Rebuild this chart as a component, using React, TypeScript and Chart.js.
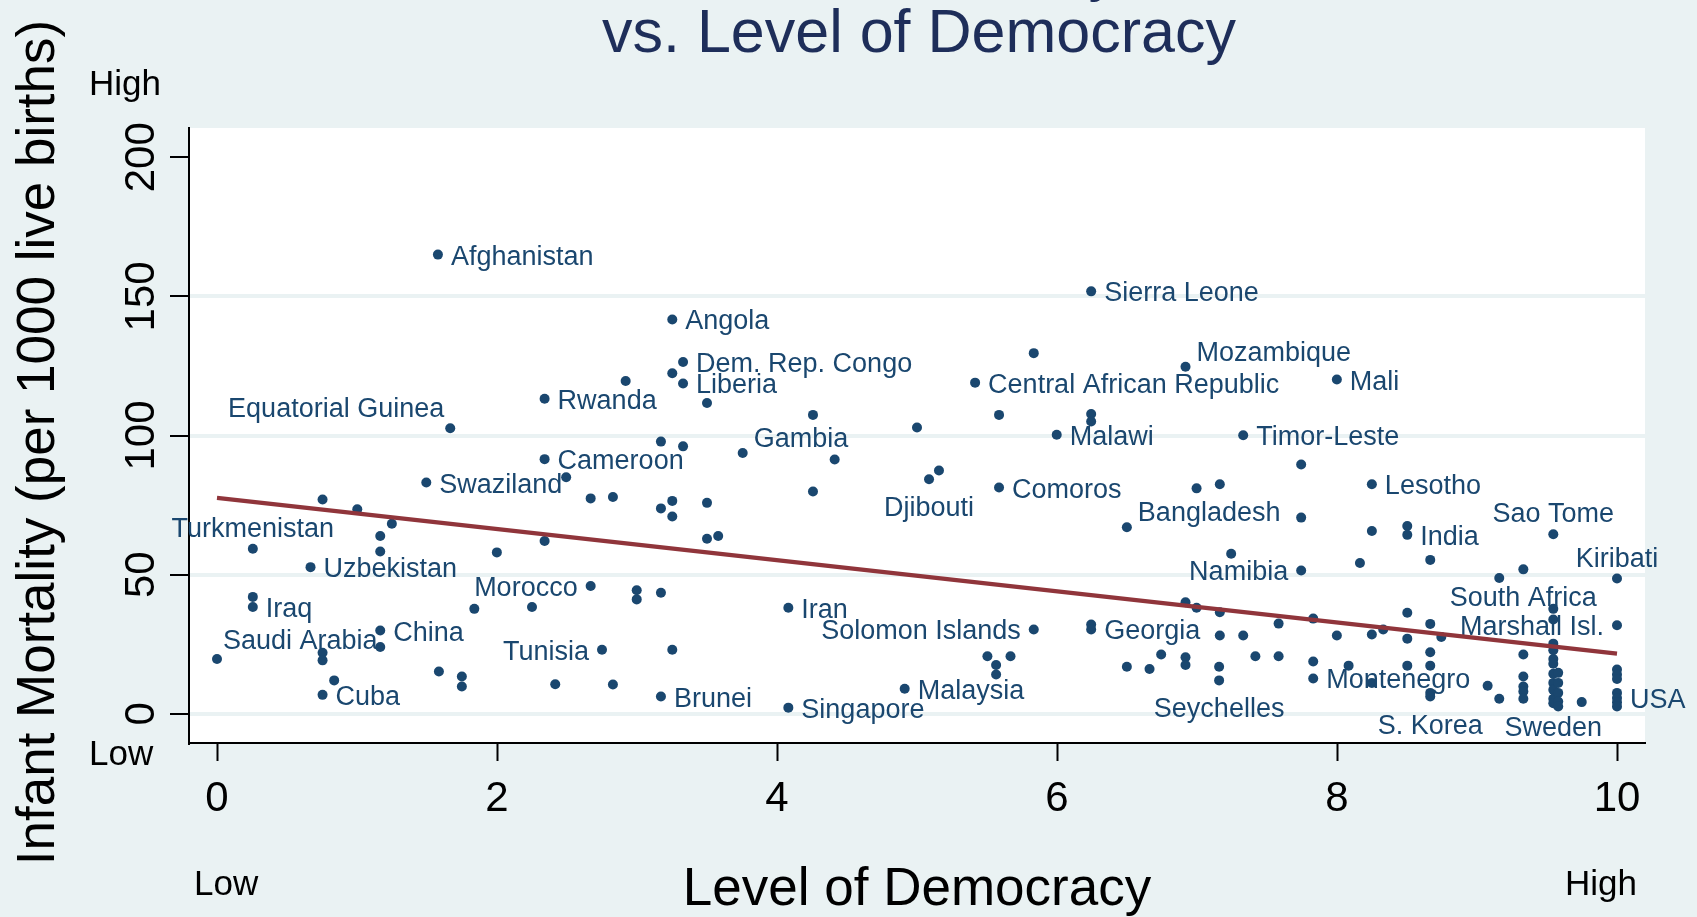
import React, { useEffect, useRef } from "react";
import { Chart, registerables } from "chart.js";

Chart.register(...registerables);

// ---------- data ----------
const democracy = [
  0.0, 0.256, 0.256, 0.256, 0.668, 0.754, 0.754, 0.754, 0.754, 0.837,
  1.002, 1.166, 1.166, 1.166, 1.166, 1.249, 1.495, 1.578, 1.585, 1.666,
  1.749, 1.749, 1.838, 1.999, 2.25, 2.34, 2.34, 2.34, 2.416, 2.494,
  2.669, 2.669, 2.75, 2.828, 2.828, 2.919, 2.998, 2.998, 3.171, 3.171,
  3.171, 3.171, 3.252, 3.252, 3.252, 3.252, 3.252, 3.329, 3.329, 3.329,
  3.5, 3.5, 3.5, 3.58, 3.755, 4.081, 4.081, 4.257, 4.257, 4.412,
  4.912, 5.0, 5.086, 5.157, 5.415, 5.503, 5.565, 5.565, 5.586, 5.586,
  5.668, 5.834, 5.834, 5.998, 6.244, 6.244, 6.244, 6.244, 6.244, 6.499,
  6.499, 6.661, 6.744, 6.918, 6.918, 6.918, 6.918, 6.997, 6.997, 7.163,
  7.163, 7.163, 7.158, 7.158, 7.244, 7.33, 7.33, 7.417, 7.583, 7.583,
  7.744, 7.744, 7.744, 7.83, 7.83, 7.83, 7.999, 7.999, 8.083, 8.164,
  8.249, 8.249, 8.249, 8.249, 8.33, 8.502, 8.502, 8.502, 8.502, 8.502,
  8.666, 8.666, 8.666, 8.666, 8.666, 8.666, 8.745, 9.076, 9.159, 9.159,
  9.331, 9.331, 9.331, 9.331, 9.331, 9.331, 9.545, 9.545, 9.545, 9.545,
  9.545, 9.545, 9.545, 9.545, 9.545, 9.545, 9.545, 9.545, 9.58, 9.58,
  9.58, 9.58, 9.58, 9.748, 10, 10, 10, 10, 10, 10,
  10, 10, 10,
];

const mortality = [
  19.7, 59.3, 42.0, 38.4, 52.7, 77.0, 21.9, 19.2, 6.8, 12.0,
  73.5, 63.9, 58.3, 29.9, 24.0, 68.3, 83.1, 165.0, 15.2, 102.6,
  13.4, 9.8, 37.7, 58.0, 38.4, 113.2, 91.5, 62.1, 10.6, 85.0,
  77.4, 45.9, 23.0, 77.9, 10.5, 119.6, 44.4, 41.1, 97.8, 73.8,
  43.5, 6.2, 141.7, 122.4, 76.5, 70.9, 23.0, 126.4, 118.7, 96.1,
  111.7, 75.8, 62.9, 63.9, 93.7, 38.1, 2.2, 107.4, 79.9, 91.4,
  9.0, 102.9, 84.3, 87.4, 119.0, 20.7, 17.5, 14.1, 107.4, 81.3,
  20.7, 129.6, 30.3, 100.3, 151.8, 107.7, 105.0, 32.1, 30.3, 67.0,
  16.9, 16.1, 21.3, 124.7, 40.1, 20.3, 17.5, 81.0, 38.1, 82.5,
  36.5, 28.1, 16.9, 12.0, 57.5, 100.1, 28.1, 20.7, 32.4, 20.7,
  89.6, 70.5, 51.5, 34.2, 18.8, 12.7, 120.1, 28.1, 17.3, 54.2,
  82.5, 65.7, 28.5, 11.1, 30.3, 67.5, 64.3, 36.3, 27.0, 17.3,
  55.3, 32.3, 22.1, 17.3, 7.5, 6.2, 27.6, 10.1, 48.8, 5.4,
  51.9, 21.3, 13.4, 9.8, 8.0, 5.4, 64.5, 37.7, 33.9, 25.2,
  22.8, 19.7, 18.0, 14.4, 11.1, 8.6, 5.4, 3.8, 14.7, 11.1,
  7.5, 4.4, 2.6, 4.2, 48.6, 31.8, 15.9, 14.1, 12.5, 7.5,
  5.7, 4.1, 2.6,
];

const country = [
  "Saudi Arabia", "Turkmenistan", "", "Iraq", "Uzbekistan", "", "", "", "Cuba", "",
  "", "", "", "China", "", "", "Swaziland", "Afghanistan", "", "Equatorial Guinea",
  "", "", "", "", "", "Rwanda", "Cameroon", "", "", "",
  "", "Morocco", "Tunisia", "", "", "", "", "", "", "",
  "", "Brunei", "Angola", "", "", "", "", "Dem. Rep. Congo", "Liberia", "",
  "", "", "", "", "Gambia", "Iran", "Singapore", "", "", "",
  "Malaysia", "", "Djibouti", "", "Central African Republic", "", "", "", "", "Comoros",
  "", "", "Solomon Islands", "Malawi", "Sierra Leone", "", "", "", "Georgia", "Bangladesh",
  "", "", "", "Mozambique", "", "", "", "", "", "",
  "", "", "", "Seychelles", "", "Timor-Leste", "", "", "", "",
  "", "", "Namibia", "", "", "Montenegro", "Mali", "", "", "",
  "Lesotho", "", "", "", "", "", "India", "", "", "",
  "", "", "", "", "", "S. Korea", "", "", "", "",
  "South Africa", "", "", "", "", "", "Sao Tome", "", "", "",
  "", "", "", "", "", "", "Sweden", "", "", "",
  "", "", "", "", "Kiribati", "Marshall Isl.", "", "", "", "",
  "USA", "", "",
];

// fitted line (lfit) end points
const fitX = [0, 10];
const fitY = [77.6, 21.6];

const xTicks = [0, 2, 4, 6, 8, 10];
const yTicks = [0, 50, 100, 150, 200];

const titleLines = ["Infant Mortality", "vs. Level of Democracy"];
const xTitle = "Level of Democracy";
const yTitle = "Infant Mortality (per 1000 live births)";
const xEndLabels = ["Low", "High"];
const yEndLabels = ["High", "Low"];

// marker label clock positions (Stata style)
const labelClock: Record<string, number> = {
  "Equatorial Guinea": 11,
  "Gambia": 2,
  "Mozambique": 2,
  "Bangladesh": 2,
  "Saudi Arabia": 1,
  "Djibouti": 6,
  "Seychelles": 6,
  "South Africa": 6,
  "Sweden": 6,
  "S. Korea": 6,
  "Sao Tome": 12,
  "Kiribati": 12,
  "Turkmenistan": 12,
  "Namibia": 9,
  "Marshall Isl.": 9,
  "Solomon Islands": 9,
  "Tunisia": 9,
  "Morocco": 9,
};

// ---------- styles ----------
const BG = "#EAF2F3";
const MARKER = "#1A476F";
const FITLINE = "#90353B";
const TITLE = "#1E2E5A";
const FONT = "'Liberation Sans', Arial, Helvetica, sans-serif";

const CLOCK: Record<number, { dx: number; dy: number; align: CanvasTextAlign }> = {
  3: { dx: 13, dy: 10, align: "left" },
  9: { dx: -13, dy: 10, align: "right" },
  12: { dx: 0, dy: -12, align: "center" },
  6: { dx: 0, dy: 37, align: "center" },
  2: { dx: 11, dy: -6, align: "left" },
  1: { dx: 6, dy: -10, align: "left" },
  11: { dx: -6, dy: -11, align: "right" },
};

const stataPlugin = {
  id: "stataLook",
  beforeDraw(chart: any) {
    const { ctx, chartArea: a, width, height } = chart;
    ctx.save();
    ctx.fillStyle = BG;
    ctx.fillRect(0, 0, width, height);
    ctx.fillStyle = "#FFFFFF";
    ctx.fillRect(a.left, a.top, a.right - a.left, a.bottom - a.top);
    ctx.restore();
  },
  afterDatasetDraw(chart: any, args: any) {
    if (args.index !== 0) return;
    const { ctx } = chart;
    const meta = chart.getDatasetMeta(0);
    ctx.save();
    ctx.font = `27px ${FONT}`;
    ctx.fillStyle = MARKER;
    ctx.textBaseline = "alphabetic";
    meta.data.forEach((pt: any, i: number) => {
      const name = country[i];
      if (!name) return;
      const o = CLOCK[labelClock[name] ?? 3];
      ctx.textAlign = o.align;
      ctx.fillText(name, pt.x + o.dx, pt.y + o.dy);
    });
    ctx.restore();
  },
  afterDraw(chart: any) {
    const { ctx, chartArea: a } = chart;
    const xs = chart.scales.x;
    const ys = chart.scales.y;
    const cx = (a.left + a.right) / 2;
    ctx.save();
    ctx.textBaseline = "alphabetic";

    // title
    ctx.fillStyle = TITLE;
    ctx.font = `61px ${FONT}`;
    ctx.textAlign = "center";
    ctx.fillText(titleLines[0], cx + 2, -11);
    ctx.fillText(titleLines[1], cx + 2, 52);

    // tick labels
    ctx.fillStyle = "#000";
    ctx.font = `42px ${FONT}`;
    xTicks.forEach((v) => {
      ctx.textAlign = "center";
      ctx.fillText(String(v), xs.getPixelForValue(v), 811);
    });
    yTicks.forEach((v) => {
      ctx.save();
      ctx.translate(154, ys.getPixelForValue(v));
      ctx.rotate(-Math.PI / 2);
      ctx.textAlign = "center";
      ctx.fillText(String(v), 0, 0);
      ctx.restore();
    });

    // axis titles
    ctx.font = `53px ${FONT}`;
    ctx.textAlign = "center";
    ctx.fillText(xTitle, cx, 905);
    ctx.save();
    ctx.translate(54, (a.top + a.bottom) / 2 + 7);
    ctx.rotate(-Math.PI / 2);
    ctx.fillText(yTitle, 0, 0);
    ctx.restore();

    // Low / High annotations
    ctx.font = `35px ${FONT}`;
    ctx.textAlign = "left";
    ctx.fillText(yEndLabels[0], 89, 95);
    ctx.fillText(yEndLabels[1], 89, 765);
    ctx.fillText(xEndLabels[0], 194, 895);
    ctx.textAlign = "right";
    ctx.fillText(xEndLabels[1], 1637, 895);
    ctx.restore();
  },
};

export default function App() {
  const ref = useRef<HTMLCanvasElement | null>(null);

  useEffect(() => {
    if (!ref.current) return;
    const points = democracy.map((x, i) => ({ x, y: mortality[i] }));
    const fit = fitX.map((x, i) => ({ x, y: fitY[i] }));
    const chart = new Chart(ref.current, {
      type: "scatter",
      data: {
        datasets: [
          {
            type: "scatter",
            data: points,
            backgroundColor: MARKER,
            borderWidth: 0,
            pointRadius: 5,
            pointHoverRadius: 5,
            order: 1,
          } as any,
          {
            type: "line",
            data: fit,
            borderColor: FITLINE,
            borderWidth: 4.2,
            pointRadius: 0,
            fill: false,
            tension: 0,
            order: 0,
          } as any,
        ],
      },
      options: {
        animation: false,
        responsive: false,
        devicePixelRatio: 1,
        events: [],
        layout: { padding: { top: 128, right: 52, left: 0, bottom: 0 } },
        plugins: {
          legend: { display: false },
          tooltip: { enabled: false },
          title: { display: false },
        },
        scales: {
          x: {
            type: "linear",
            min: -0.2,
            max: 10.2,
            afterBuildTicks: (s: any) => {
              s.ticks = xTicks.map((v) => ({ value: v }));
            },
            afterFit: (s: any) => {
              s.height = 174;
            },
            ticks: { display: false },
            grid: {
              drawOnChartArea: false,
              drawTicks: true,
              tickLength: 18,
              tickColor: "#000",
              tickWidth: 2,
            },
            border: { display: true, color: "#000", width: 2 },
          },
          y: {
            type: "linear",
            min: -10.5,
            max: 210.5,
            afterBuildTicks: (s: any) => {
              s.ticks = yTicks.map((v) => ({ value: v }));
            },
            afterFit: (s: any) => {
              s.width = 189;
            },
            ticks: { display: false },
            grid: {
              color: (c: any) =>
                c.tick && c.tick.value === 200 ? "rgba(0,0,0,0)" : BG,
              lineWidth: 4,
              drawTicks: true,
              tickLength: 19,
              tickColor: "#000",
              tickWidth: 2,
            },
            border: { display: true, color: "#000", width: 2 },
          },
        },
      } as any,
      plugins: [stataPlugin],
    });
    return () => chart.destroy();
  }, []);

  return (
    <canvas
      ref={ref}
      width={1697}
      height={917}
      style={{ position: "absolute", left: 0, top: 0, display: "block" }}
    />
  );
}
